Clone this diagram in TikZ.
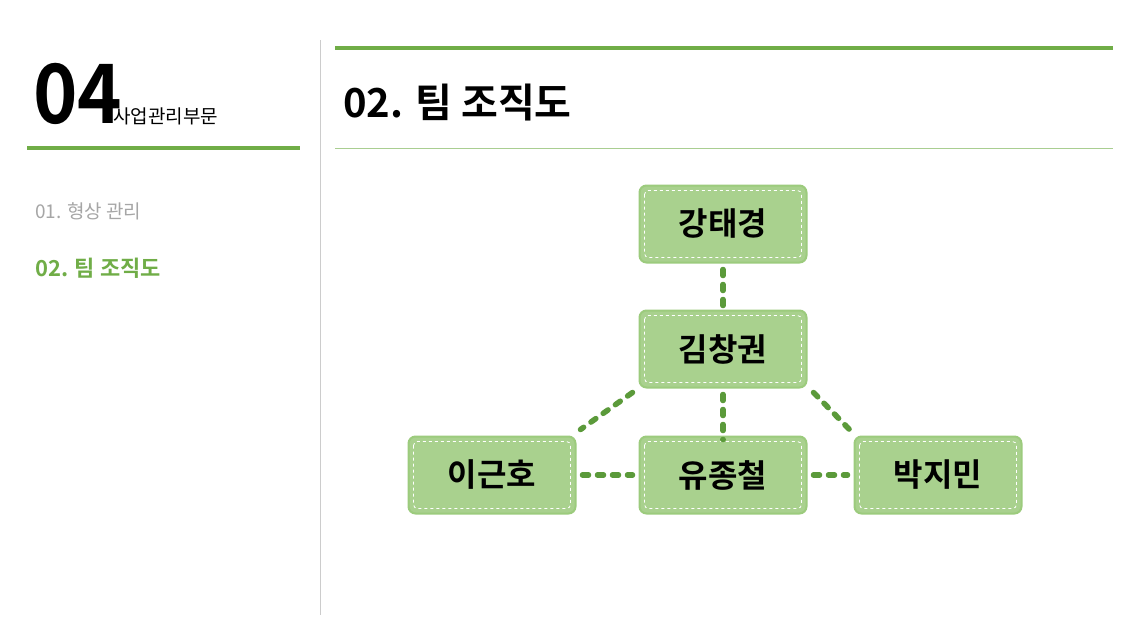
\documentclass[tikz,border=0pt]{standalone}
\usepackage{fontspec}
\setmainfont{Noto Sans CJK KR}
\newfontfamily\kb{Noto Sans CJK KR Bold}
\definecolor{gr}{HTML}{70AD47}
\definecolor{boxf}{HTML}{A9D18E}
\definecolor{boxd}{HTML}{9CCB7D}
\definecolor{lk}{HTML}{5B9A3A}
\begin{document}
\begin{tikzpicture}[x=1pt,y=-1pt,
 pbox/.style={draw=boxd,line width=2pt,fill=boxf,rounded corners=7pt,minimum width=167pt,minimum height=77pt,font=\kb\fontsize{32}{36}\selectfont,inner sep=0pt},
 lnk/.style={draw=lk,line width=5.5pt,dash pattern=on 6pt off 9pt,line cap=round}]
\useasboundingbox[fill=white] (0,0) rectangle (1140,641);
\draw[gray!40,line width=0.8pt] (320,40) -- (320,615);
\draw[gr,line width=4pt] (335,48) -- (1113,48);
\draw[gr!60,line width=0.8pt] (335,148) -- (1113,148);
\draw[gr,line width=4pt] (27,148) -- (300,148);
\node[anchor=base west,inner sep=0pt,font=\kb\fontsize{82}{82}\selectfont,xscale=0.92] (n04) at (33,123) {04};
\node[anchor=base west,inner sep=0pt,font=\fontsize{19}{20}\selectfont] (sec) at (113,123) {사업관리부문};
\node[anchor=base west,inner sep=0pt,font=\kb\fontsize{40}{44}\selectfont] (ttl) at (343,117) {02. 팀 조직도};
\node[anchor=base west,inner sep=0pt,font=\fontsize{19}{20}\selectfont,text=gray!70] (m1) at (35,218) {01. 형상 관리};
\node[anchor=base west,inner sep=0pt,font=\kb\fontsize{22}{24}\selectfont,text=gr] (m2) at (35,276) {02. 팀 조직도};
\node[pbox] (a) at (723,224) {강태경};
\node[pbox] (b) at (723,349) {김창권};
\node[pbox] (c) at (492,475) {이근호};
\node[pbox] (d) at (723,475) {유종철};
\node[pbox] (e) at (938,475) {박지민};
\foreach \n in {a,b,c,d,e}{
 \draw[white,line width=0.8pt,dashed,rounded corners=4pt] ([shift={(6pt,-6pt)}]\n.north west) rectangle ([shift={(-6pt,6pt)}]\n.south east);}
\draw[lnk] (a.south) ++(0,6) -- ([yshift=-4pt]b.north);
\draw[lnk] (b.south) ++(0,6) -- ([yshift=-4pt]d.north);
\draw[lnk] ([shift={(-6pt,-4pt)}]b.south west) -- ([shift={(4pt,6pt)}]c.north east);
\draw[lnk] ([shift={(6pt,-4pt)}]b.south east) -- ([shift={(-4pt,6pt)}]e.north west);
\draw[lnk] ([xshift=6pt]c.east) -- ([xshift=-6pt]d.west);
\draw[lnk] ([xshift=6pt]d.east) -- ([xshift=-6pt]e.west);
\end{tikzpicture}
\end{document}
